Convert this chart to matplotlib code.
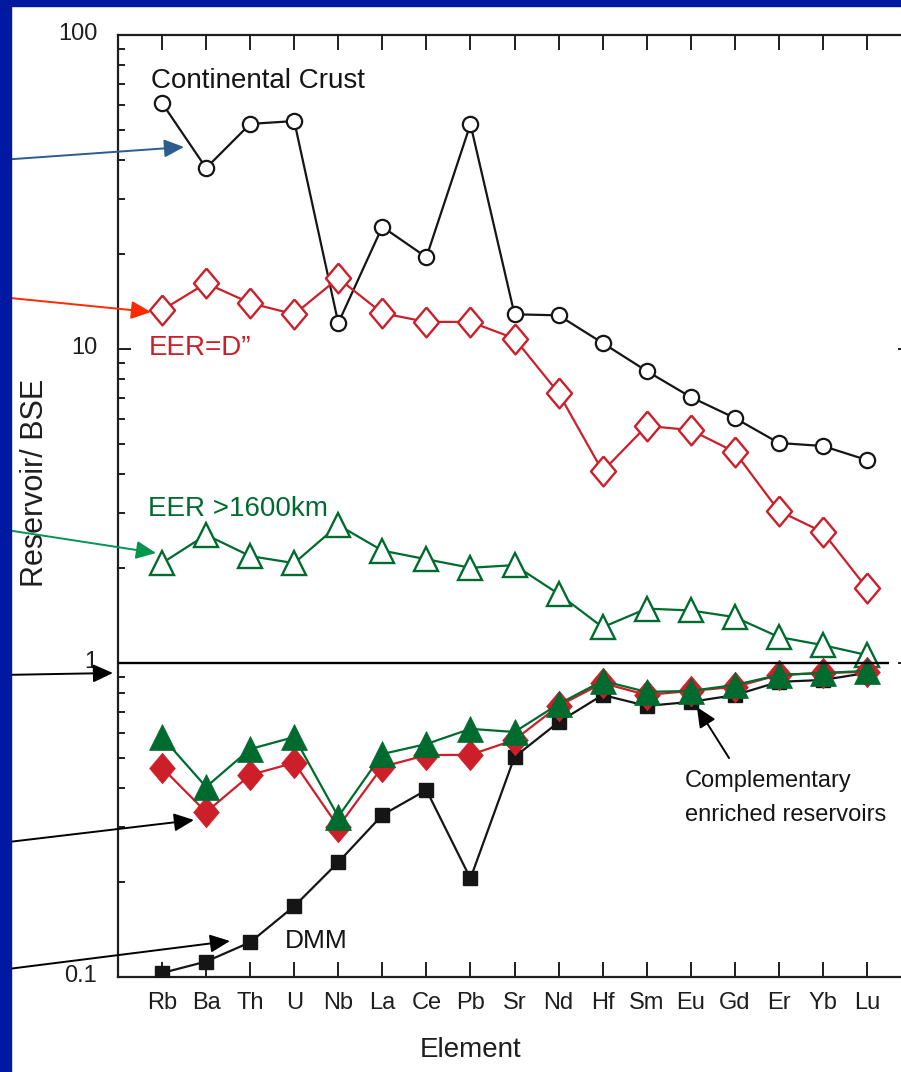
import matplotlib
matplotlib.use('Agg')
import matplotlib.pyplot as plt
from matplotlib.patches import Rectangle
from matplotlib.ticker import LogLocator, NullFormatter
from matplotlib.transforms import ScaledTranslation
import numpy as np

plt.rcParams['font.family'] = ['Liberation Sans', 'DejaVu Sans']

elements = ['Rb', 'Ba', 'Th', 'U', 'Nb', 'La', 'Ce', 'Pb', 'Sr', 'Nd',
            'Hf', 'Sm', 'Eu', 'Gd', 'Er', 'Yb', 'Lu']

# reservoir / BSE
crust = [60.7, 37.7, 52.1, 53.2, 12.1, 24.5, 19.6, 52.0, 12.9, 12.8,
         10.45, 8.51, 7.03, 6.03, 5.02, 4.91, 4.43]
eer_d = [13.3, 16.2, 14.0, 12.9, 16.8, 13.0, 12.2, 12.2, 10.8, 7.24,
         4.08, 5.69, 5.52, 4.70, 3.05, 2.61, 1.73]
eer_1600 = [2.08, 2.56, 2.19, 2.08, 2.75, 2.28, 2.14, 2.01, 2.05, 1.66,
            1.30, 1.49, 1.47, 1.40, 1.21, 1.14, 1.06]
dmm = [0.103, 0.112, 0.129, 0.168, 0.232, 0.328, 0.394, 0.206, 0.502, 0.648,
       0.791, 0.730, 0.752, 0.790, 0.871, 0.883, 0.930]
comp_d = [0.464, 0.335, 0.440, 0.481, 0.301, 0.467, 0.509, 0.510, 0.569, 0.730,
          0.863, 0.791, 0.815, 0.839, 0.916, 0.930, 0.937]
comp_1600 = [0.581, 0.403, 0.532, 0.581, 0.324, 0.513, 0.552, 0.617, 0.603, 0.740,
             0.877, 0.809, 0.815, 0.851, 0.916, 0.929, 0.944]

red = '#cc1f2a'
green = '#006b2f'
black = '#151515'

W, H = 901, 1072


def px(x, y):
    # pixel position (top-left origin) -> figure fraction
    return (x / W, 1 - y / H)


fig = plt.figure(figsize=(W / 100, H / 100), dpi=100)
ax = fig.add_axes([118 / W, 1 - 977 / H, 793 / W, 942 / H])

x = np.arange(len(elements))
diamond = [(0, 1), (0.84, 0), (0, -1), (-0.84, 0), (0, 1)]

ax.plot(x, crust, color=black, lw=1.6, marker='o', ms=11, mfc='white',
        mec=black, mew=1.6, zorder=3)
ax.plot(x, eer_d, color=red, lw=1.6, marker=diamond, ms=21.5, mfc='white',
        mec=red, mew=1.7, zorder=3)
ax.plot(x, eer_1600, color=green, lw=1.6, marker='^', ms=17, mfc='white',
        mec=green, mew=1.7, zorder=3)
ax.plot(x, dmm, color=black, lw=1.6, marker='s', ms=10.5, mfc=black,
        mec=black, zorder=4)
ax.plot(x, comp_d, color=red, lw=1.6, marker=diamond, ms=22, mfc=red,
        mec=red, mew=0.5, zorder=5)
ax.plot(x, comp_1600, color=green, lw=1.6, marker='^', ms=18.5, mfc=green,
        mec=green, mew=0.5, zorder=6)

ax.hlines(1, -1, 16.5, color='black', lw=1.7, zorder=7)

ax.set_yscale('log')
ax.set_ylim(0.1, 100)
ax.set_xlim(-1, 17)
ax.set_xticks(x)
ax.set_xticklabels(elements)
ax.set_yticks([0.1, 1, 10, 100])
ax.set_yticklabels(['0.1', '1', '10', '100'])
ax.yaxis.set_minor_locator(LogLocator(base=10, subs=np.arange(2, 10)))
ax.yaxis.set_minor_formatter(NullFormatter())

ax.tick_params(axis='x', which='major', direction='in', length=11, width=1.4,
               top=True, bottom=True, labelsize=17, pad=11, colors='#1e1e1e')
ax.tick_params(axis='y', which='major', direction='in', length=9.5, width=1.4,
               left=True, right=True, labelsize=17, pad=15, colors='#1e1e1e')
ax.tick_params(axis='y', which='minor', direction='in', length=5, width=1.4,
               left=True, right=True, colors='#1e1e1e')
for s in ax.spines.values():
    s.set_linewidth(1.6)
    s.set_color('#1e1e1e')

# y tick labels sit a little above their ticks
lift = ScaledTranslation(0, 3 / 100, fig.dpi_scale_trans)
for lab in ax.get_yticklabels():
    lab.set_transform(lab.get_transform() + lift)

ax.set_xlabel('Element', fontsize=20, color='#1e1e1e')
ax.xaxis.set_label_coords((471 - 118) / 793, (977 - 1037) / 942)
ax.set_ylabel('Reservoir/ BSE', fontsize=22, color='#1e1e1e')
ax.yaxis.set_label_coords((50 - 118) / 793, (977 - 483) / 942)

ax.text(-0.25, 67.8, 'Continental Crust', fontsize=20, color=black, va='baseline')
ax.text(-0.30, 9.57, 'EER=D\u201d', fontsize=20, color=red, va='baseline')
ax.text(-0.32, 2.94, 'EER >1600km', fontsize=20, color=green, va='baseline')
ax.text(2.79, 0.1236, 'DMM', fontsize=19, color=black, va='baseline')
ax.text(11.87, 0.403, 'Complementary', fontsize=17, color=black, va='baseline')
ax.text(11.87, 0.314, 'enriched reservoirs', fontsize=17, color=black, va='baseline')

head = '-|>,head_length=0.55,head_width=0.25'
arrows = [
    ((0, 160), (184, 147), '#2b5d8f'),
    ((0, 297), (151, 312), '#ff2a00'),
    ((0, 529), (156, 553), '#009650'),
    ((0, 675), (113, 673), 'black'),
    ((0, 843), (194, 820), 'black'),
    ((0, 970), (230, 941), 'black'),
]
for start, tip, c in arrows:
    ax.annotate('', xy=px(*tip), xycoords='figure fraction',
                xytext=px(*start), textcoords='figure fraction',
                arrowprops=dict(arrowstyle=head, mutation_scale=22, lw=1.4,
                                color=c, shrinkA=0, shrinkB=0),
                annotation_clip=False)

ax.annotate('', xy=(12.14, 0.724), xytext=(12.87, 0.498),
            arrowprops=dict(arrowstyle=head, mutation_scale=22, lw=1.4,
                            color='black', shrinkA=0, shrinkB=0))

# dark blue slide border
band = '#0019a0'
fig.add_artist(Rectangle((0, 0), 11 / W, 1, transform=fig.transFigure,
                         color=band, zorder=10))
fig.add_artist(Rectangle((0, 1 - 6 / H), 1, 6 / H, transform=fig.transFigure,
                         color=band, zorder=10))

fig.savefig('out.png', dpi=100)
